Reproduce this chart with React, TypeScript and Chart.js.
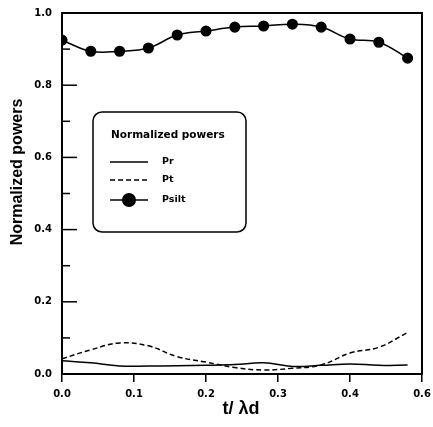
import React, { useEffect, useRef } from "react";
import { Chart, registerables } from "chart.js";

Chart.register(...registerables);

const xValues = [0, 0.04, 0.08, 0.12, 0.16, 0.2, 0.24, 0.28, 0.32, 0.36, 0.4, 0.44, 0.48];
const prValues = [0.037, 0.031, 0.022, 0.022, 0.023, 0.024, 0.026, 0.031, 0.021, 0.024, 0.028, 0.024, 0.025];
const ptValues = [0.042, 0.067, 0.086, 0.078, 0.048, 0.033, 0.018, 0.011, 0.016, 0.025, 0.058, 0.074, 0.115];
const psiltValues = [0.925, 0.894, 0.894, 0.903, 0.939, 0.95, 0.961, 0.964, 0.969, 0.961, 0.928, 0.919, 0.875];

const seriesNames = ["Pr", "Pt", "Psilt"];
const xTickLabels = ["0.0", "0.1", "0.2", "0.3", "0.4", "0.6"];
const yTickLabels = ["0.0", "", "0.2", "", "0.4", "", "0.6", "", "0.8", "", "1.0"];
const legendTitle = "Normalized powers";
const yTitle = "Normalized powers";
const xTitle = "t/ λd";

const toPoints = (ys: number[]) => xValues.map((x, i) => ({ x, y: ys[i] }));

const decorPlugin = {
  id: "decor",
  afterDraw(chart: any) {
    const { ctx, chartArea: a, scales } = chart;
    ctx.save();
    ctx.strokeStyle = "#000";
    ctx.fillStyle = "#000";
    ctx.lineWidth = 2;
    ctx.strokeRect(a.left, a.top, a.right - a.left, a.bottom - a.top);

    // inward y ticks
    const ys = scales.y;
    ctx.lineWidth = 1.5;
    ys.ticks.forEach((t: any, i: number) => {
      const y = ys.getPixelForValue(t.value);
      const major = i % 2 === 0;
      ctx.beginPath();
      ctx.moveTo(a.left, y);
      ctx.lineTo(a.left + (major ? 15 : 8), y);
      ctx.stroke();
    });

    // axis titles
    ctx.save();
    ctx.translate(18, 172);
    ctx.rotate(-Math.PI / 2);
    ctx.font = "bold 16px 'Liberation Sans', Arial, sans-serif";
    ctx.textAlign = "center";
    ctx.textBaseline = "middle";
    ctx.fillText(yTitle, 0, 0);
    ctx.restore();

    ctx.font = "bold 18px 'Liberation Sans', Arial, sans-serif";
    ctx.textAlign = "center";
    ctx.textBaseline = "middle";
    ctx.fillText(xTitle, 241, 409);

    // legend
    const lx = 93, ly = 112, lw = 153, lh = 120, r = 9;
    ctx.beginPath();
    ctx.moveTo(lx + r, ly);
    ctx.lineTo(lx + lw - r, ly);
    ctx.arcTo(lx + lw, ly, lx + lw, ly + r, r);
    ctx.lineTo(lx + lw, ly + lh - r);
    ctx.arcTo(lx + lw, ly + lh, lx + lw - r, ly + lh, r);
    ctx.lineTo(lx + r, ly + lh);
    ctx.arcTo(lx, ly + lh, lx, ly + lh - r, r);
    ctx.lineTo(lx, ly + r);
    ctx.arcTo(lx, ly, lx + r, ly, r);
    ctx.closePath();
    ctx.fillStyle = "#fff";
    ctx.fill();
    ctx.lineWidth = 1.5;
    ctx.strokeStyle = "#000";
    ctx.stroke();

    ctx.fillStyle = "#000";
    ctx.textAlign = "left";
    ctx.textBaseline = "middle";
    ctx.font = "bold 10.5px 'DejaVu Sans', sans-serif";
    ctx.fillText(legendTitle, 111, 135);

    const rows = [162, 180, 200];
    chart.data.datasets.forEach((ds: any, i: number) => {
      const y = rows[i];
      ctx.save();
      ctx.strokeStyle = "#000";
      ctx.lineWidth = 1.5;
      ctx.setLineDash(ds.borderDash || []);
      ctx.beginPath();
      ctx.moveTo(110, y);
      ctx.lineTo(148, y);
      ctx.stroke();
      ctx.restore();
      if (ds.pointRadius > 0) {
        ctx.beginPath();
        ctx.arc(129, y, 7, 0, Math.PI * 2);
        ctx.fill();
      }
      ctx.font = "bold 9.5px 'DejaVu Sans', sans-serif";
      ctx.fillText(ds.label, 162, y);
    });
    ctx.restore();
  },
};

export default function App() {
  const ref = useRef<HTMLCanvasElement>(null);
  useEffect(() => {
    if (!ref.current) return;
    const tickFont = { family: "'DejaVu Sans', sans-serif", size: 10, weight: "bold" as const };
    const chart = new Chart(ref.current, {
      type: "line",
      data: {
        datasets: [
          {
            label: seriesNames[0],
            data: toPoints(prValues),
            borderColor: "#000",
            borderWidth: 1.5,
            pointRadius: 0,
            tension: 0.4,
            fill: false,
          },
          {
            label: seriesNames[1],
            data: toPoints(ptValues),
            borderColor: "#000",
            borderWidth: 1.5,
            borderDash: [5, 3],
            pointRadius: 0,
            tension: 0.4,
            fill: false,
          },
          {
            label: seriesNames[2],
            data: toPoints(psiltValues),
            borderColor: "#000",
            backgroundColor: "#000",
            borderWidth: 1.5,
            pointRadius: 4.8,
            pointBackgroundColor: "#000",
            pointBorderColor: "#000",
            tension: 0.4,
            fill: false,
          },
        ],
      },
      options: {
        animation: false,
        responsive: false,
        layout: { padding: { top: 13, right: 11, left: 0, bottom: 0 } },
        plugins: { legend: { display: false }, tooltip: { enabled: false } },
        scales: {
          x: {
            type: "linear",
            min: 0,
            max: 0.5,
            ticks: {
              stepSize: 0.1,
              color: "#000",
              font: tickFont,
              padding: 6,
              maxRotation: 0,
              callback: (_v: any, i: number) => xTickLabels[i] ?? "",
            },
            grid: {
              display: true,
              drawOnChartArea: false,
              drawTicks: true,
              tickLength: 8,
              color: "#000",
              lineWidth: 1.5,
            },
            border: { display: false },
            afterFit: (s: any) => {
              s.height = 53;
              s.paddingLeft = 0;
              s.paddingRight = 0;
            },
          },
          y: {
            min: 0,
            max: 1,
            ticks: {
              stepSize: 0.1,
              color: "#000",
              font: tickFont,
              padding: 10,
              callback: (_v: any, i: number) => yTickLabels[i] ?? "",
            },
            grid: { display: false, drawTicks: false },
            border: { display: false },
            afterFit: (s: any) => {
              s.width = 62;
              s.paddingTop = 0;
              s.paddingBottom = 0;
            },
          },
        },
      },
      plugins: [decorPlugin],
    });
    return () => chart.destroy();
  }, []);
  return (
    <div style={{ position: "absolute", left: 0, top: 0, width: 433, height: 427, background: "#fff" }}>
      <canvas ref={ref} width={433} height={427} style={{ display: "block" }} />
    </div>
  );
}
